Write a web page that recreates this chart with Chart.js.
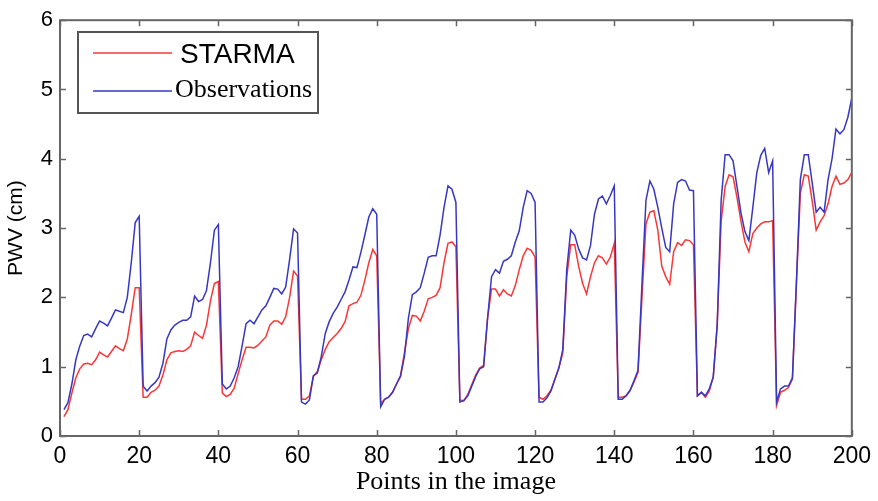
<!doctype html>
<html lang="en">
  <head>
    <meta charset="utf-8">
    <title>STARMA vs Observations</title>
    <script src="https://cdn.jsdelivr.net/npm/chart.js@4.4.0/dist/chart.umd.min.js"></script>
    <style>
      html, body { margin: 0; padding: 0; background: #fff; }
      #wrap { width: 878px; height: 501px; }
    </style>
  </head>
  <body>
    <div id="wrap"><canvas id="myChart" width="878" height="501"></canvas></div>

<script>

// values, one per point (x = 1..200)
const starmaData = [
  0.28,0.38,0.62,0.84,0.97,1.04,1.05,1.03,1.10,1.21,1.17,1.14,1.22,1.30,1.26,1.23,1.40,1.75,2.14,2.14,
  0.56,0.56,0.63,0.66,0.72,0.88,1.10,1.20,1.22,1.23,1.22,1.25,1.30,1.50,1.45,1.41,1.60,1.95,2.20,2.23,
  0.62,0.57,0.60,0.69,0.90,1.10,1.28,1.28,1.27,1.31,1.37,1.43,1.60,1.66,1.66,1.61,1.72,2.00,2.38,2.31,
  0.53,0.53,0.58,0.86,0.93,1.10,1.25,1.36,1.42,1.48,1.55,1.65,1.88,1.91,1.93,2.03,2.25,2.50,2.69,2.60,
  0.47,0.53,0.56,0.63,0.75,0.87,1.20,1.55,1.74,1.73,1.66,1.80,1.98,2.00,2.03,2.14,2.50,2.78,2.80,2.73,
  0.52,0.51,0.60,0.74,0.88,0.98,1.02,1.70,2.12,2.12,2.02,2.11,2.05,2.02,2.17,2.40,2.60,2.71,2.68,2.58,
  0.56,0.53,0.58,0.66,0.82,0.98,1.20,2.30,2.76,2.76,2.45,2.20,2.05,2.30,2.50,2.60,2.57,2.48,2.58,2.78,
  0.56,0.56,0.58,0.66,0.78,0.92,2.00,3.06,3.23,3.25,2.97,2.45,2.30,2.19,2.66,2.79,2.75,2.83,2.82,2.76,
  0.58,0.63,0.56,0.65,0.85,1.60,3.10,3.60,3.77,3.74,3.44,3.10,2.80,2.66,2.92,3.00,3.06,3.09,3.09,3.11,
  0.44,0.63,0.66,0.70,0.82,2.20,3.50,3.77,3.75,3.39,2.97,3.09,3.18,3.35,3.60,3.75,3.63,3.65,3.70,3.80
];

const observationsData = [
  0.38,0.48,0.75,1.10,1.30,1.45,1.47,1.43,1.55,1.66,1.63,1.59,1.70,1.82,1.80,1.78,2.00,2.50,3.08,3.17,
  0.72,0.65,0.72,0.77,0.85,1.05,1.40,1.53,1.60,1.64,1.67,1.67,1.72,2.02,1.94,1.97,2.10,2.50,2.97,3.05,
  0.75,0.68,0.72,0.84,1.00,1.30,1.62,1.67,1.62,1.72,1.82,1.88,2.00,2.13,2.12,2.05,2.15,2.55,2.99,2.93,
  0.49,0.46,0.52,0.87,0.91,1.15,1.48,1.65,1.77,1.86,1.97,2.08,2.25,2.44,2.43,2.65,2.90,3.16,3.28,3.20,
  0.42,0.53,0.56,0.63,0.75,0.86,1.15,1.70,2.04,2.08,2.14,2.35,2.58,2.60,2.60,2.90,3.30,3.61,3.56,3.37,
  0.49,0.51,0.58,0.72,0.86,0.97,1.00,1.70,2.30,2.40,2.35,2.52,2.55,2.60,2.80,2.96,3.30,3.54,3.50,3.37,
  0.49,0.49,0.55,0.65,0.82,0.98,1.25,2.40,2.97,2.90,2.70,2.57,2.54,2.75,3.20,3.42,3.46,3.35,3.47,3.61,
  0.53,0.53,0.58,0.66,0.80,0.95,2.20,3.40,3.68,3.56,3.30,3.00,2.72,2.66,3.35,3.66,3.70,3.68,3.55,3.54,
  0.58,0.63,0.58,0.68,0.85,1.60,3.40,4.06,4.06,3.97,3.60,3.22,2.95,2.82,3.30,3.80,4.05,4.15,3.80,3.97,
  0.49,0.68,0.72,0.72,0.84,2.20,3.70,4.06,4.06,3.65,3.23,3.30,3.23,3.70,4.00,4.43,4.36,4.42,4.60,4.88
];

const xTicks = [0, 20, 40, 60, 80, 100, 120, 140, 160, 180, 200];
const yTicks = [0, 1, 2, 3, 4, 5, 6];

const seriesNames = ['STARMA', 'Observations'];
const seriesColors = ['rgb(250, 55, 55)', 'rgb(55, 55, 195)'];

const toPoints = arr => arr.map((v, i) => ({ x: i + 1, y: v }));

const axisColor = '#666';
const tickLen = 6;

// box round the plot, inward ticks on all four sides, and the legend
const matlabFrame = {
    id: 'matlabFrame',
    afterDraw(chart) {
        const ctx = chart.ctx;
        const a = chart.chartArea;
        const xs = chart.scales.x, ys = chart.scales.y;
        ctx.save();
        ctx.strokeStyle = axisColor;
        ctx.lineWidth = 2;
        ctx.strokeRect(a.left, a.top, a.right - a.left, a.bottom - a.top);

        ctx.lineWidth = 1.5;
        ctx.beginPath();
        xTicks.forEach(v => {
            const px = Math.round(xs.getPixelForValue(v)) + 0.5;
            ctx.moveTo(px, a.bottom); ctx.lineTo(px, a.bottom - tickLen);
            ctx.moveTo(px, a.top); ctx.lineTo(px, a.top + tickLen);
        });
        yTicks.forEach(v => {
            const py = Math.round(ys.getPixelForValue(v)) + 0.5;
            ctx.moveTo(a.left, py); ctx.lineTo(a.left + tickLen, py);
            ctx.moveTo(a.right, py); ctx.lineTo(a.right - tickLen, py);
        });
        ctx.stroke();

        // legend
        const bx = 78, by = 32, bw = 240, bh = 81;
        ctx.fillStyle = '#fff';
        ctx.fillRect(bx, by, bw, bh);
        ctx.strokeStyle = '#555';
        ctx.lineWidth = 2;
        ctx.strokeRect(bx, by, bw, bh);

        const rows = [
            { y: 53, ty: 55, tx: 180, font: '28px "Liberation Sans"' },
            { y: 91, ty: 90, tx: 175, font: '26px "Liberation Serif"' }
        ];
        rows.forEach((r, i) => {
            ctx.strokeStyle = seriesColors[i];
            ctx.lineWidth = 1.5;
            ctx.beginPath();
            ctx.moveTo(93, r.y); ctx.lineTo(172, r.y);
            ctx.stroke();
            ctx.fillStyle = '#000';
            ctx.font = r.font;
            ctx.textBaseline = 'middle';
            ctx.textAlign = 'left';
            ctx.fillText(seriesNames[i], r.tx, r.ty);
        });
        ctx.restore();
    }
};

const data = {
    datasets: [{
        label: seriesNames[0],
        data: toPoints(starmaData),
        borderColor: seriesColors[0],
        backgroundColor: seriesColors[0],
        borderWidth: 1.5,
        pointRadius: 0,
        order: 1
    },
    {
        label: seriesNames[1],
        data: toPoints(observationsData),
        borderColor: seriesColors[1],
        backgroundColor: seriesColors[1],
        borderWidth: 1.5,
        pointRadius: 0,
        order: 0
    }]
};

const config = {
    type: 'line',
    data: data,
    options: {
        responsive: false,
        animation: false,
        layout: {
            padding: { left: 0, right: 23, top: 13, bottom: 0 }
        },
        scales: {
            x: {
                type: 'linear',
                min: 0,
                max: 200,
                afterBuildTicks: s => { s.ticks = xTicks.map(v => ({ value: v })); },
                afterFit: s => { s.height = 65; },
                grid: { display: false, drawTicks: false },
                border: { display: false },
                ticks: {
                    color: '#000',
                    padding: 7,
                    maxRotation: 0,
                    font: { family: 'Liberation Sans', size: 23 }
                },
                title: {
                    display: true,
                    text: 'Points in the image',
                    color: '#000',
                    font: { family: 'Liberation Serif', size: 26 },
                    padding: { top: 0, bottom: 3 }
                }
            },
            y: {
                min: 0,
                max: 6,
                afterBuildTicks: s => { s.ticks = yTicks.map(v => ({ value: v })); },
                afterFit: s => { s.width = 60; },
                grid: { display: false, drawTicks: false },
                border: { display: false },
                ticks: {
                    color: '#000',
                    padding: 7,
                    font: { family: 'Liberation Sans', size: 22 }
                },
                title: {
                    display: true,
                    text: 'PWV (cm)',
                    color: '#000',
                    font: { family: 'Liberation Sans', size: 21 },
                    padding: { top: 4, bottom: 0 }
                }
            }
        },
        plugins: {
            legend: { display: false },
            tooltip: { enabled: false }
        }
    },
    plugins: [matlabFrame]
};

const myChart = new Chart(document.getElementById('myChart'), config);
</script>
  </body>
</html>
